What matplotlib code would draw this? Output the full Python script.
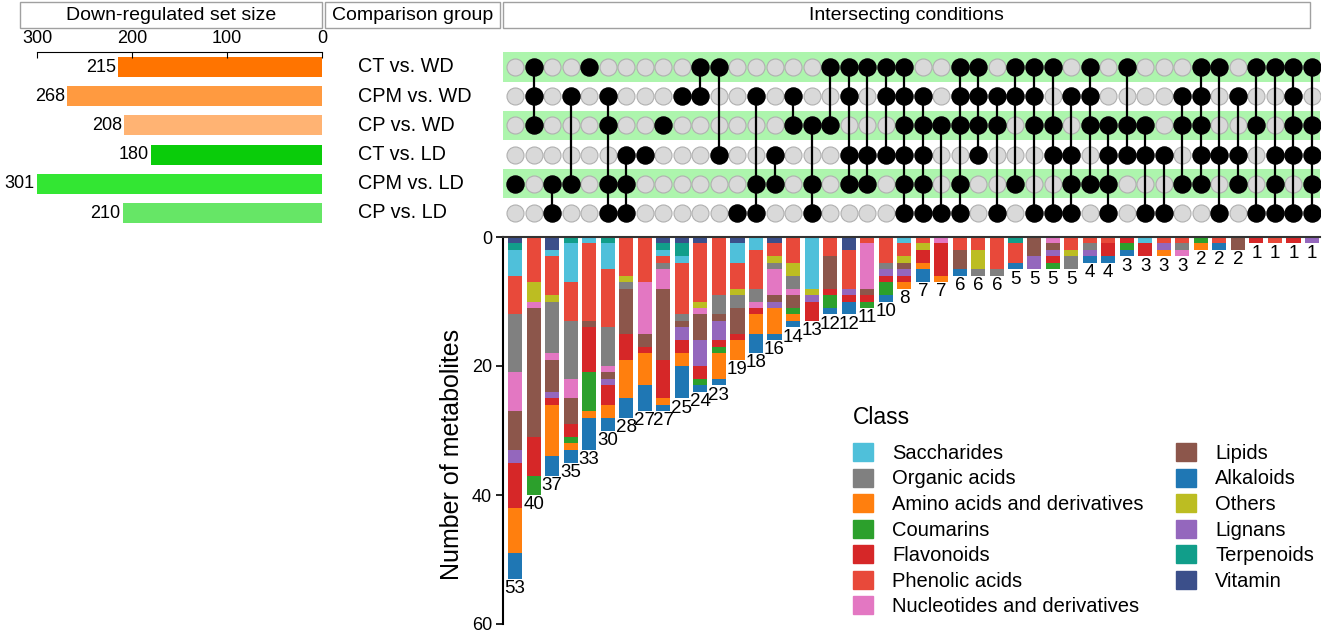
import matplotlib
matplotlib.use("Agg")
import matplotlib.pyplot as plt
from matplotlib.patches import Rectangle, Patch
from matplotlib import transforms
import numpy as np

plt.rcParams['font.family'] = ['Liberation Sans', 'DejaVu Sans']

W, H = 1325, 634

# comparison groups (matrix rows, top to bottom)
comparisons = ["CT vs. WD", "CPM vs. WD", "CP vs. WD", "CT vs. LD", "CPM vs. LD", "CP vs. LD"]
set_sizes = [215, 268, 208, 180, 301, 210]
set_colors = ['#ff7400', '#ff9a40', '#ffb373', '#0acc0a', '#33e633', '#66e666']

# which comparison groups each intersection column contains
combos = [(4,), (0, 1, 2), (4, 5), (1, 4), (0,), (1, 2, 4, 5), (3, 4, 5), (3,), (2,), (1,), (0, 1),
          (0, 3), (5,), (1, 4, 5), (3, 4), (1, 2), (2, 4, 5), (0, 2), (0, 1, 3, 4), (0, 3, 4), (0, 1, 3), (0, 1, 2, 3, 4, 5),
          (1, 2, 3, 4, 5), (2, 5), (0, 1, 2, 4, 5), (0, 1, 2, 3), (1, 2, 5), (0, 1, 4), (0, 1, 2, 5), (0, 2, 3, 5), (1, 3, 4, 5), (0, 1, 2, 4), (2, 3, 4, 5),
          (0, 2, 3), (2, 3, 5), (3, 5), (1, 2, 4), (0, 1, 2, 3, 4), (0, 3, 5), (1, 3, 4), (0, 2, 5), (0, 3, 4, 5), (0, 1, 2, 3, 5), (0, 2, 3, 4, 5)]

# metabolite counts per class for each intersection column (44 columns)
vitamin = [1, 0, 2, 0, 0, 0, 0, 0, 1, 1, 1,
           0, 1, 0, 1, 0, 0, 0, 2, 0, 0, 0,
           0, 0, 0, 0, 0, 0, 0, 0, 0, 0, 0,
           0, 0, 0, 0, 0, 0, 0, 0, 0, 0, 0]
terpenoids = [1, 0, 0, 1, 0, 1, 0, 0, 1, 2, 0,
              0, 0, 0, 0, 0, 0, 0, 0, 0, 0, 0,
              0, 0, 0, 0, 0, 1, 0, 0, 0, 0, 0,
              0, 0, 0, 0, 0, 0, 0, 0, 0, 0, 0]
saccharides = [4, 0, 1, 6, 1, 4, 0, 0, 1, 1, 0,
               0, 3, 2, 0, 0, 8, 0, 0, 0, 0, 1,
               0, 0, 0, 0, 0, 0, 0, 0, 0, 0, 0,
               0, 1, 0, 0, 0, 0, 0, 0, 0, 0, 0]
phenolic = [6, 7, 6, 6, 12, 9, 6, 7, 1, 8, 9,
            9, 4, 6, 2, 4, 0, 3, 6, 1, 4, 2,
            1, 0, 2, 2, 5, 3, 0, 0, 2, 1, 1,
            0, 0, 1, 1, 0, 1, 0, 0, 1, 0, 0]
others = [0, 3, 1, 0, 0, 0, 1, 0, 0, 0, 1,
          0, 1, 0, 1, 2, 1, 0, 0, 0, 0, 1,
          1, 0, 0, 3, 0, 0, 0, 0, 1, 0, 0,
          0, 0, 0, 0, 0, 0, 0, 0, 0, 0, 0]
organic = [9, 0, 8, 9, 0, 6, 1, 0, 1, 1, 0,
           3, 2, 2, 1, 2, 0, 0, 0, 0, 1, 0,
           0, 0, 0, 1, 1, 0, 0, 0, 2, 1, 0,
           0, 0, 0, 1, 0, 0, 0, 0, 0, 0, 0]
nucleotides = [6, 1, 1, 3, 0, 1, 0, 8, 3, 0, 1,
               0, 0, 1, 4, 1, 0, 0, 0, 7, 0, 0,
               0, 1, 0, 0, 0, 0, 0, 1, 0, 0, 0,
               0, 0, 0, 1, 0, 0, 0, 0, 0, 0, 0]
lipids = [6, 20, 5, 4, 1, 1, 7, 2, 11, 1, 4,
          1, 4, 0, 1, 2, 0, 5, 0, 1, 0, 1,
          0, 0, 3, 0, 0, 0, 3, 1, 0, 0, 0,
          0, 0, 0, 0, 0, 0, 2, 0, 0, 0, 0]
lignans = [2, 0, 1, 0, 0, 1, 0, 0, 0, 2, 4,
           3, 0, 0, 1, 0, 1, 0, 1, 0, 1, 1,
           0, 0, 0, 0, 0, 0, 2, 1, 0, 1, 0,
           0, 0, 1, 0, 0, 0, 0, 0, 0, 0, 1]
flavonoids = [7, 6, 1, 2, 7, 3, 4, 1, 6, 2, 2,
              1, 1, 1, 0, 0, 3, 1, 1, 1, 1, 1,
              2, 5, 0, 0, 0, 0, 0, 1, 0, 0, 2,
              1, 2, 0, 0, 0, 0, 0, 1, 0, 1, 0]
coumarins = [0, 3, 0, 1, 6, 0, 0, 0, 0, 0, 1,
             1, 0, 0, 0, 1, 0, 2, 0, 1, 2, 0,
             0, 0, 0, 0, 0, 0, 0, 1, 0, 0, 0,
             1, 0, 0, 0, 1, 0, 0, 0, 0, 0, 0]
amino = [7, 0, 8, 1, 1, 2, 6, 5, 1, 2, 0,
         4, 3, 3, 4, 1, 0, 0, 0, 0, 0, 1,
         1, 1, 0, 0, 0, 0, 0, 0, 0, 0, 0,
         0, 0, 1, 0, 1, 0, 0, 0, 0, 0, 0]
alkaloids = [4, 0, 3, 2, 5, 2, 3, 4, 1, 5, 1,
             1, 0, 3, 1, 1, 0, 1, 2, 0, 1, 0,
             2, 0, 1, 0, 0, 1, 0, 0, 0, 1, 1,
             1, 0, 0, 0, 0, 1, 0, 0, 0, 0, 0]

# stacking order, top of bar first
stack = [("Vitamin", vitamin, '#3b4f8a'),
         ("Terpenoids", terpenoids, '#119e8a'),
         ("Saccharides", saccharides, '#4fc0da'),
         ("Phenolic acids", phenolic, '#e8493a'),
         ("Others", others, '#bcbd22'),
         ("Organic acids", organic, '#808080'),
         ("Nucleotides and derivatives", nucleotides, '#e377c2'),
         ("Lipids", lipids, '#8c564b'),
         ("Lignans", lignans, '#9467bd'),
         ("Flavonoids", flavonoids, '#d62728'),
         ("Coumarins", coumarins, '#2ca02c'),
         ("Amino acids and derivatives", amino, '#ff7f0e'),
         ("Alkaloids", alkaloids, '#1f77b4')]

legend_order = ["Saccharides", "Organic acids", "Amino acids and derivatives", "Coumarins",
                "Flavonoids", "Phenolic acids", "Nucleotides and derivatives",
                "Lipids", "Alkaloids", "Others", "Lignans", "Terpenoids", "Vitamin"]

fig = plt.figure(figsize=(W / 100, H / 100), dpi=100)


def px_axes(x0, y0, x1, y1):
    return fig.add_axes([x0 / W, 1 - y1 / H, (x1 - x0) / W, (y1 - y0) / H])


def header(x0, x1, label):
    y0, y1 = 2, 28
    fig.add_artist(Rectangle((x0 / W, 1 - y1 / H), (x1 - x0) / W, (y1 - y0) / H,
                             transform=fig.transFigure, fill=False, edgecolor='#a0a0a0', lw=1))
    fig.text((x0 + x1) / 2 / W, 1 - (y0 + y1) / 2 / H, label, ha='center', va='center', fontsize=14)


header(20, 322, "Down-regulated set size")
header(325, 500, "Comparison group")
header(503, 1310, "Intersecting conditions")

n = len(combos)
xs = np.arange(n)
xlim = (-0.65, 43.43)
rows = np.arange(len(comparisons))

# set size bars
ax_size = px_axes(37, 52.4, 322, 227.6)
ax_size.barh(rows, set_sizes, height=0.68, color=set_colors)
for r, v in zip(rows, set_sizes):
    ax_size.text(v + 2, r, str(v), ha='right', va='center', fontsize=13)
ax_size.set_xlim(300, 0)
ax_size.set_ylim(5.5, -0.5)
ax_size.xaxis.tick_top()
ax_size.set_xticks([300, 200, 100, 0])
ax_size.tick_params(axis='x', direction='in', length=4, labelsize=13, pad=4)
ax_size.set_yticks([])
for s in ['left', 'right', 'bottom']:
    ax_size.spines[s].set_visible(False)

# matrix
ax_mat = px_axes(503, 52.4, 1320, 227.6)
ax_mat.set_xlim(*xlim)
ax_mat.set_ylim(5.5, -0.5)
ax_mat.axis('off')
for r in rows[::2]:
    ax_mat.axhspan(r - 0.5, r + 0.5, color='#adf5ad', zorder=0, lw=0)
gx, gy = np.meshgrid(xs, rows)
ax_mat.scatter(gx.ravel(), gy.ravel(), s=150, color='#d9d9d9', edgecolors='#b0b0b0', linewidths=0.8, zorder=2)
for j, c in enumerate(combos):
    if len(c) > 1:
        ax_mat.plot([j, j], [min(c), max(c)], color='black', lw=1.6, zorder=3)
    ax_mat.scatter([j] * len(c), c, s=150, color='black', zorder=4)

tr = transforms.blended_transform_factory(fig.transFigure, ax_mat.transData)
for r, name in zip(rows, comparisons):
    fig.text(358 / W, r, name, transform=tr, ha='left', va='center', fontsize=14.3)

# stacked intersection bars
ax_bar = px_axes(503, 237, 1320, 624)
cum = np.zeros(n)
handles = {}
for name, vals, col in stack:
    vals = np.array(vals)
    ax_bar.bar(xs, vals, bottom=cum, width=0.76, color=col, linewidth=0)
    handles[name] = Patch(facecolor=col, edgecolor=col)
    cum += vals
for j, t in enumerate(cum):
    ax_bar.text(j, t + 0.2, str(int(t)), ha='center', va='top', fontsize=13.5)
ax_bar.set_xlim(*xlim)
ax_bar.set_ylim(60, 0)
ax_bar.set_yticks([0, 20, 40, 60])
ax_bar.set_xticks([])
ax_bar.tick_params(axis='y', length=5, width=1.2, labelsize=13, pad=3)
ax_bar.spines['right'].set_visible(False)
ax_bar.spines['bottom'].set_visible(False)
ax_bar.spines['left'].set_linewidth(1.5)
ax_bar.spines['top'].set_linewidth(1.5)
ax_bar.spines['top'].set_color('#333333')
ax_bar.set_ylabel("Number of metabolites", fontsize=18)
ax_bar.yaxis.set_label_coords(-0.048, 0.437)

fig.text(853 / W, 1 - 418 / H, "Class", ha='left', va='center', fontsize=16.5)
fig.legend([handles[k] for k in legend_order], legend_order, loc='upper left',
           bbox_to_anchor=(853 / W, 1 - 443 / H), ncol=2, frameon=False,
           fontsize=14.5, handlelength=1.0, handleheight=1.0,
           handletextpad=0.95, columnspacing=1.6, labelspacing=0.28,
           borderpad=0, borderaxespad=0)

fig.savefig('out.png', dpi=100)
